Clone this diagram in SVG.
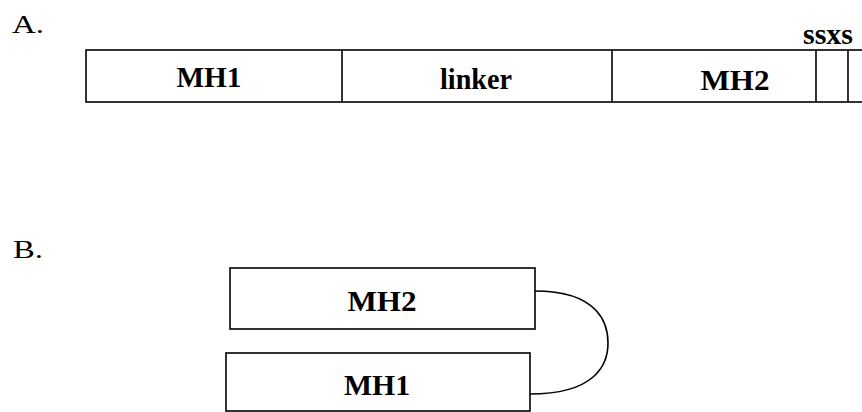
<svg xmlns="http://www.w3.org/2000/svg" width="862" height="412" viewBox="0 0 862 412">
  <style>
    .box { fill: #fff; stroke: #000; stroke-width: 1.6; }
    .div { stroke: #000; stroke-width: 1.6; }
    .lbl { font-family: "Liberation Serif", "DejaVu Serif", serif; font-weight: bold; font-size: 29px; fill: #000; }
    .sec { font-family: "Liberation Serif", "DejaVu Serif", serif; font-size: 26px; fill: #000; }
    .link { fill: none; stroke: #000; stroke-width: 1.6; }
  </style>
  <rect width="862" height="412" fill="#fff"/>

  <!-- Panel A: linear domain map -->
  <text class="sec" x="12" y="33" textLength="32" lengthAdjust="spacingAndGlyphs">A.</text>
  <g id="domain-bar">
    <rect class="box" x="86" y="50" width="790" height="52"/>
  </g>
  <g id="a-mh1">
    <text class="lbl" x="209" y="87" text-anchor="middle" textLength="65" lengthAdjust="spacingAndGlyphs">MH1</text>
  </g>
  <g id="a-linker">
    <line class="div" x1="342" y1="50" x2="342" y2="102"/>
    <text class="lbl" x="476" y="89" text-anchor="middle" textLength="72" lengthAdjust="spacingAndGlyphs">linker</text>
  </g>
  <g id="a-mh2">
    <line class="div" x1="612" y1="50" x2="612" y2="102"/>
    <text class="lbl" x="735" y="90" text-anchor="middle" textLength="69" lengthAdjust="spacingAndGlyphs">MH2</text>
  </g>
  <g id="a-ssxs">
    <line class="div" x1="816" y1="50" x2="816" y2="102"/>
    <line class="div" x1="848" y1="50" x2="848" y2="102"/>
    <text class="lbl" x="828" y="44" text-anchor="middle" textLength="50" lengthAdjust="spacingAndGlyphs">ssxs</text>
  </g>

  <!-- Panel B: folded MH1 / MH2 -->
  <text class="sec" x="13" y="258" textLength="30" lengthAdjust="spacingAndGlyphs">B.</text>
  <g id="b-mh2">
    <rect class="box" x="230" y="268" width="305" height="61"/>
    <text class="lbl" x="382" y="311" text-anchor="middle" textLength="69" lengthAdjust="spacingAndGlyphs">MH2</text>
  </g>
  <g id="b-mh1">
    <rect class="box" x="226" y="353" width="304" height="58"/>
    <text class="lbl" x="377" y="395" text-anchor="middle" textLength="66" lengthAdjust="spacingAndGlyphs">MH1</text>
  </g>
  <g id="connectors">
    <path class="link" d="M535,291 C600,291 608,325 608,343 C608,365 595,394 530,394"/>
  </g>
</svg>
